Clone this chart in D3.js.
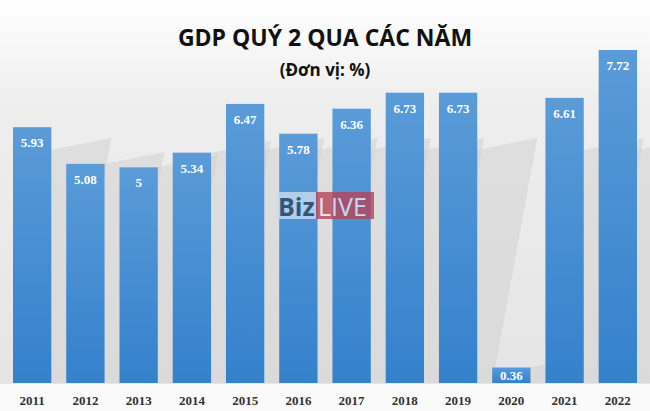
<!DOCTYPE html>
<html><head><meta charset="utf-8">
<script src="https://cdn.jsdelivr.net/npm/d3@7"></script>
<style>body{margin:0;background:#fff}svg{display:block}</style>
</head><body><svg id="c" width="650" height="411"></svg>
<script>
const years = ["2011","2012","2013","2014","2015","2016","2017","2018","2019","2020","2021","2022"];
const values = [5.93,5.08,5,5.34,6.47,5.78,6.36,6.73,6.73,0.36,6.61,7.72];
const labels = ["5.93","5.08","5","5.34","6.47","5.78","6.36","6.73","6.73","0.36","6.61","7.72"];

const svg = d3.select("#c");
const defs = svg.append("defs");
const bg = defs.append("linearGradient").attr("id","bg").attr("x1",0).attr("x2",0).attr("y1",0).attr("y2",1);
bg.append("stop").attr("offset","0").attr("stop-color","#ffffff");
bg.append("stop").attr("offset","0.25").attr("stop-color","#eeeeee");
bg.append("stop").attr("offset","1").attr("stop-color","#e4e4e4");
const bar = defs.append("linearGradient").attr("id","bar").attr("x1",0).attr("x2",0).attr("y1",0).attr("y2",1);
bar.append("stop").attr("offset","0").attr("stop-color","#5b9bd8");
bar.append("stop").attr("offset","1").attr("stop-color","#3481cc");

svg.append("rect").attr("x",0).attr("y",0).attr("width",650).attr("height",411).attr("fill","url(#bg)");
svg.append("rect").attr("x",0).attr("y",384).attr("width",650).attr("height",27).attr("fill","#fafafa");

const x = d3.scaleBand().domain(years).range([13,637]).paddingInner(0.28).paddingOuter(0);
const y = d3.scaleLinear().domain([0,7.72]).range([383,50]);

svg.selectAll(".sh").data(years).join("path")
  .attr("d",(d,i)=>{const x0=x(d)+x.bandwidth(), yt=Math.max(y(values[i]),150), yb=383, dx=Math.min((yb-yt)*0.9,60);
    return `M${x0},${yb} L${x0},${yt} L${x0+dx},${yt-dx*0.2} L${x0+15},${yb}Z`;})
  .attr("fill","#d0d0d0").attr("opacity",0.5);

svg.selectAll(".b").data(years).join("rect")
  .attr("x",d=>x(d)).attr("width",x.bandwidth())
  .attr("y",(d,i)=>y(values[i])).attr("height",(d,i)=>383-y(values[i]))
  .attr("fill","url(#bar)");

svg.selectAll(".v").data(years).join("text")
  .attr("x",d=>x(d)+x.bandwidth()/2).attr("y",(d,i)=>Math.min(y(values[i])+20,380))
  .attr("text-anchor","middle").attr("fill","#fff")
  .attr("font-family","Liberation Serif").attr("font-weight","bold").attr("font-size",13)
  .text((d,i)=>labels[i]);

svg.selectAll(".yr").data(years).join("text")
  .attr("x",d=>x(d)+x.bandwidth()/2).attr("y",405)
  .attr("text-anchor","middle").attr("fill","#333")
  .attr("font-family","Liberation Serif").attr("font-weight","bold").attr("font-size",13)
  .text(d=>d);

svg.append("text").attr("x",325).attr("y",46).attr("text-anchor","middle")
  .attr("font-family","Open Sans, sans-serif").attr("font-weight","bold").attr("font-size",23).attr("fill","#111")
  .text("GDP QUÝ 2 QUA CÁC NĂM");
svg.append("text").attr("x",325).attr("y",76).attr("text-anchor","middle")
  .attr("font-family","Open Sans, sans-serif").attr("font-weight","bold").attr("font-size",17).attr("fill","#111")
  .text("(Đơn vị: %)");

const w = svg.append("g").attr("opacity",0.8);
w.append("rect").attr("x",276).attr("y",192).attr("width",40).attr("height",27).attr("fill","#c9ddf0");
w.append("rect").attr("x",316).attr("y",192).attr("width",58).attr("height",27).attr("fill","#b5455a");
w.append("text").attr("x",278).attr("y",216).attr("font-family","Open Sans, sans-serif").attr("font-weight","bold").attr("font-size",25).attr("fill","#2c4766").text("Biz");
w.append("text").attr("x",318).attr("y",216).attr("font-family","Open Sans, sans-serif").attr("font-size",25).attr("fill","#e8e8f4").text("LIVE");
</script></body></html>
